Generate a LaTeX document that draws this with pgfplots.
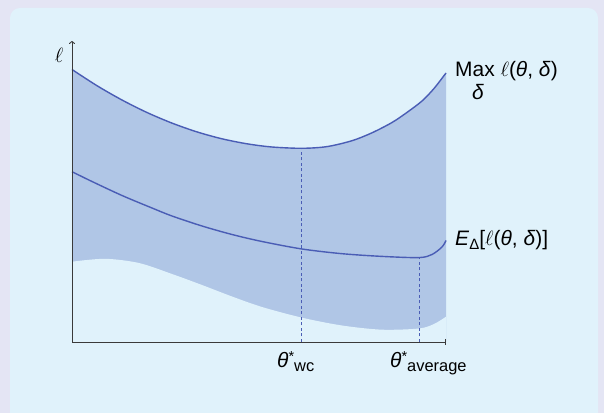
\documentclass[border=0pt]{standalone}
\usepackage{fontspec}
\setmainfont{Liberation Sans}
\usepackage{pgfplots}
\pgfplotsset{compat=1.18}
\usetikzlibrary{arrows.meta}
\definecolor{outerbg}{HTML}{E4E5F4}
\definecolor{innerbg}{HTML}{E0F2FB}
\definecolor{band}{HTML}{B0C6E6}
\definecolor{curve}{HTML}{4A5DB5}
\definecolor{axisgray}{HTML}{3A3A3A}
\newcommand\thsub[1]{\textit{θ}\raisebox{6bp}{\fontsize{14.5}{14}\selectfont *}\raisebox{-4bp}{\fontsize{16.5}{16}\selectfont #1}}
\begin{document}
\begin{tikzpicture}
\fill[outerbg] (0bp,0bp) rectangle (604bp,413bp);
\begin{scope}
\clip (0bp,0bp) rectangle (604bp,413bp);
\fill[innerbg, rounded corners=10bp] (10bp,-30bp) rectangle (598bp,405bp);
\end{scope}
\begin{axis}[
  at={(72bp,71bp)}, anchor=south west,
  x=1bp, y=1bp,
  xmin=0, xmax=374, ymin=0, ymax=300,
  axis lines=none,
  xtick=\empty, ytick=\empty,
  clip=false,
]
% band: area under the max curve, then the area under the lower bound in the background colour
\addplot[fill=band, draw=none, smooth] coordinates {
(0,272.5) (25,256.3) (50,242) (75,229.5) (100,218.9) (125,210.1) (150,203.2) (175,198.2)
(200,195) (230,193.7) (255,195.4) (280,201.3) (300,209.2) (320,219.5) (335,229.6) (350,241) (362,253.5) (374,269)} \closedcycle;
\addplot[fill=innerbg, draw=none, smooth] coordinates {
(0,80.3) (33,83.2) (67,79) (100,68) (130,57) (160,45.5) (190,35) (230,24.3) (270,16.5)
(310,12.3) (347,13.5) (362,18) (374,25.3)} \closedcycle;
% max curve
\addplot[curve, line width=1.4bp, smooth] coordinates {
(0,272.5) (25,256.3) (50,242) (75,229.5) (100,218.9) (125,210.1) (150,203.2) (175,198.2)
(200,195) (230,193.7) (255,195.4) (280,201.3) (300,209.2) (320,219.5) (335,229.6) (350,241) (362,253.5) (374,269)};
% expected curve
\addplot[curve, line width=1.4bp, smooth] coordinates {
(0,170.3) (20,160.5) (50,146.5) (80,134) (100,126) (130,116) (160,107.5) (190,100.5)
(230,93) (270,88.3) (310,85.6) (347,84.4) (360,87.5) (370,95) (374,101.5)};
\addplot[curve, line width=0.7bp, dash pattern=on 3bp off 2.5bp] coordinates {(229.5,0) (229.5,193.7)};
\addplot[curve, line width=0.7bp, dash pattern=on 3bp off 2.5bp] coordinates {(347.5,0) (347.5,84.4)};
% axes
\addplot[axisgray, line width=0.9bp, -{To[length=3bp,width=6bp]}] coordinates {(0,0) (0,301)};
\addplot[axisgray, line width=0.9bp, -{Bar[width=6bp]}] coordinates {(0,0) (374,0)};
\node[font=\fontsize{20}{22}\selectfont, anchor=center] at (axis cs:-13,287) {$\ell$};
\node[font=\fontsize{21}{23}\selectfont, anchor=west, inner sep=0pt] at (axis cs:383,271) {Max $\ell$(\textit{θ}, \textit{δ})};
\node[font=\fontsize{21}{23}\selectfont, inner sep=0pt] at (axis cs:406,249.5) {\textit{δ}};
\node[font=\fontsize{21}{23}\selectfont, anchor=west, inner sep=0pt] at (axis cs:383,102) {\textit{E}\raisebox{-4bp}{\fontsize{15}{15}\selectfont Δ}[$\ell$(\textit{θ}, \textit{δ})]};
\node[font=\fontsize{21}{23}\selectfont, anchor=base west, inner sep=0pt] at (axis cs:205,-26) {\thsub{wc}};
\node[font=\fontsize{21}{23}\selectfont, anchor=base west, inner sep=0pt] at (axis cs:318,-26) {\thsub{average}};
\end{axis}
\end{tikzpicture}
\end{document}
